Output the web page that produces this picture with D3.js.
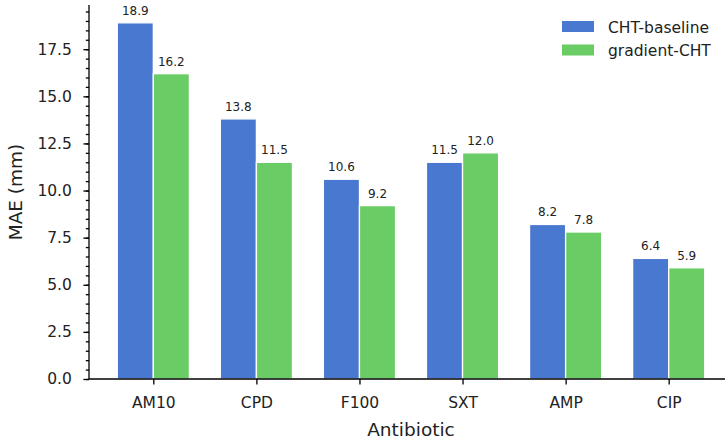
<!DOCTYPE html>
<html>
<head>
<meta charset="utf-8">
<script src="https://cdn.jsdelivr.net/npm/d3@7"></script>
<style>
  body { margin: 0; background: #fff; }
  svg { display: block; font-family: "DejaVu Sans", sans-serif; }
</style>
</head>
<body>
<div id="chart"></div>
<script>
const antibiotics = ["AM10", "CPD", "F100", "SXT", "AMP", "CIP"];
const baseline = [18.9, 13.8, 10.6, 11.5, 8.2, 6.4];
const gradient = [16.2, 11.5, 9.2, 12.0, 7.8, 5.9];
const seriesNames = ["CHT-baseline", "gradient-CHT"];
const seriesColors = ["#4878CF", "#6ACC65"];
const yTicks = [0, 2.5, 5, 7.5, 10, 12.5, 15, 17.5];

const W = 725, H = 444;
const plotLeft = 89, plotRight = 733, plotTop = 5, plotBottom = 379;
const barW = 0.35;

const svg = d3.select("#chart").append("svg")
    .attr("width", W)
    .attr("height", H);

const x = d3.scaleLinear()
    .domain([-0.624, antibiotics.length - 1 + 0.624])
    .range([plotLeft, plotRight]);

const y = d3.scaleLinear()
    .domain([0, d3.max(baseline.concat(gradient)) * 1.05])
    .range([plotBottom, plotTop]);

// bars
const series = [baseline, gradient];
series.forEach((vals, s) => {
    svg.append("g")
        .selectAll("rect")
        .data(vals)
        .enter()
        .append("rect")
        .attr("x", (d, i) => x(i - barW + s * barW))
        .attr("y", d => y(d))
        .attr("width", x(barW) - x(0))
        .attr("height", d => y(0) - y(d))
        .attr("fill", seriesColors[s])
        .attr("stroke", "#fff")
        .attr("stroke-width", 1.3);

    svg.append("g")
        .selectAll("text")
        .data(vals)
        .enter()
        .append("text")
        .attr("x", (d, i) => x(i - barW / 2 + s * barW))
        .attr("y", d => y(d) - 8)
        .attr("text-anchor", "middle")
        .attr("font-size", 12)
        .attr("fill", "#222")
        .text(d => d.toFixed(1));
});

// y axis
const yAxis = svg.append("g").attr("transform", `translate(${plotLeft},0)`);
yAxis.call(d3.axisLeft(y).tickValues(d3.range(0, 19.85, 0.5)).tickSize(3.2).tickFormat(""));
yAxis.append("g")
    .call(d3.axisLeft(y).tickValues(yTicks).tickSize(5.6).tickPadding(11.5).tickFormat(d3.format(".1f")));
yAxis.selectAll("line").attr("stroke", "#000").attr("stroke-width", 1.3);
yAxis.selectAll("text").attr("font-size", 15.5).attr("fill", "#222")
    .attr("font-family", "DejaVu Sans, sans-serif");
yAxis.selectAll(".domain").remove();
svg.append("line")
    .attr("x1", plotLeft).attr("x2", plotLeft)
    .attr("y1", plotTop).attr("y2", plotBottom)
    .attr("stroke", "#000").attr("stroke-width", 1.3);

// x axis
const xAxis = svg.append("g").attr("transform", `translate(0,${plotBottom})`);
xAxis.call(d3.axisBottom(x).tickValues(d3.range(antibiotics.length))
    .tickSize(5.6).tickPadding(12.5).tickFormat(i => antibiotics[i]));
xAxis.select(".domain").remove();
xAxis.selectAll("line").attr("stroke", "#000").attr("stroke-width", 1.3);
xAxis.selectAll("text").attr("font-size", 15.5).attr("fill", "#222")
    .attr("font-family", "DejaVu Sans, sans-serif");
svg.append("line")
    .attr("x1", plotLeft).attr("x2", plotRight)
    .attr("y1", plotBottom).attr("y2", plotBottom)
    .attr("stroke", "#000").attr("stroke-width", 1.3);

// axis labels
svg.append("text")
    .attr("x", (plotLeft + plotRight) / 2)
    .attr("y", 436)
    .attr("text-anchor", "middle")
    .attr("font-size", 18.5)
    .attr("fill", "#222")
    .text("Antibiotic");

svg.append("text")
    .attr("transform", `translate(22,${(plotTop + plotBottom) / 2}) rotate(-90)`)
    .attr("text-anchor", "middle")
    .attr("font-size", 18.5)
    .attr("fill", "#222")
    .text("MAE (mm)");

// legend
const legend = svg.append("g").attr("transform", "translate(562,21)");
seriesNames.forEach((name, s) => {
    legend.append("rect")
        .attr("x", 0)
        .attr("y", s * 23.5)
        .attr("width", 32)
        .attr("height", 11)
        .attr("fill", seriesColors[s]);
    legend.append("text")
        .attr("x", 46)
        .attr("y", s * 23.5 + 11.5)
        .attr("font-size", 15.5)
        .attr("fill", "#222")
        .text(name);
});
</script>
</body>
</html>
